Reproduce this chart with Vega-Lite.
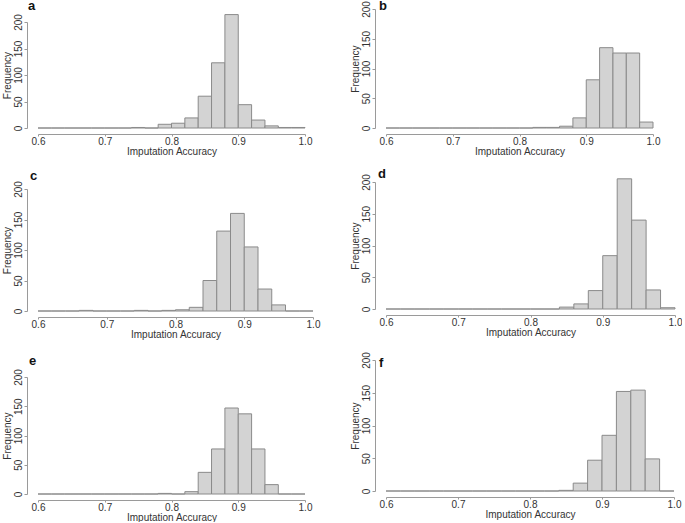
{
  "$schema": "https://vega.github.io/schema/vega-lite/v6.json",
  "padding": {"left": 2, "top": 0, "right": 0, "bottom": 0},
  "background": "white",
  "config": {
    "view": {"stroke": null},
    "font": "Liberation Sans",
    "axis": {"grid": false, "domainColor": "#9a9a9a", "tickColor": "#9a9a9a", "labelColor": "#333", "titleColor": "#333", "labelFontSize": 10, "titleFontSize": 10, "titleFontWeight": "normal", "labelFont": "Liberation Sans", "titleFont": "Liberation Sans"},
    "axisX": {"offset": 6, "tickSize": 2, "labelPadding": 0, "titlePadding": 0, "labelFlush": false},
    "axisY": {"offset": 11, "tickSize": 3, "labelPadding": 1, "labelAngle": -90, "titlePadding": 1},
    "title": {"anchor": "start", "frame": "group", "baseline": "alphabetic", "fontSize": 13, "fontWeight": "bold", "color": "#111", "font": "Liberation Sans"},
    "rect": {"fill": "#d3d3d3", "stroke": "#8a8a8a", "strokeWidth": 1}
  },
  "datasets": {
    "a": [
      {"start": 0.60, "end": 0.62, "count": 0}, {"start": 0.62, "end": 0.64, "count": 0}, {"start": 0.64, "end": 0.66, "count": 0}, {"start": 0.66, "end": 0.68, "count": 0}, {"start": 0.68, "end": 0.70, "count": 0},
      {"start": 0.70, "end": 0.72, "count": 0}, {"start": 0.72, "end": 0.74, "count": 0}, {"start": 0.74, "end": 0.76, "count": 1}, {"start": 0.76, "end": 0.78, "count": 0}, {"start": 0.78, "end": 0.80, "count": 7},
      {"start": 0.80, "end": 0.82, "count": 9}, {"start": 0.82, "end": 0.84, "count": 19}, {"start": 0.84, "end": 0.86, "count": 60}, {"start": 0.86, "end": 0.88, "count": 123}, {"start": 0.88, "end": 0.90, "count": 214},
      {"start": 0.90, "end": 0.92, "count": 44}, {"start": 0.92, "end": 0.94, "count": 15}, {"start": 0.94, "end": 0.96, "count": 4}, {"start": 0.96, "end": 0.98, "count": 1}, {"start": 0.98, "end": 1.00, "count": 1}
    ],
    "b": [
      {"start": 0.60, "end": 0.62, "count": 0}, {"start": 0.62, "end": 0.64, "count": 0}, {"start": 0.64, "end": 0.66, "count": 0}, {"start": 0.66, "end": 0.68, "count": 0}, {"start": 0.68, "end": 0.70, "count": 0},
      {"start": 0.70, "end": 0.72, "count": 0}, {"start": 0.72, "end": 0.74, "count": 0}, {"start": 0.74, "end": 0.76, "count": 0}, {"start": 0.76, "end": 0.78, "count": 0}, {"start": 0.78, "end": 0.80, "count": 0},
      {"start": 0.80, "end": 0.82, "count": 0}, {"start": 0.82, "end": 0.84, "count": 1}, {"start": 0.84, "end": 0.86, "count": 1}, {"start": 0.86, "end": 0.88, "count": 3}, {"start": 0.88, "end": 0.90, "count": 17},
      {"start": 0.90, "end": 0.92, "count": 81}, {"start": 0.92, "end": 0.94, "count": 135}, {"start": 0.94, "end": 0.96, "count": 126}, {"start": 0.96, "end": 0.98, "count": 126}, {"start": 0.98, "end": 1.00, "count": 10}
    ],
    "c": [
      {"start": 0.60, "end": 0.62, "count": 0}, {"start": 0.62, "end": 0.64, "count": 0}, {"start": 0.64, "end": 0.66, "count": 0}, {"start": 0.66, "end": 0.68, "count": 1}, {"start": 0.68, "end": 0.70, "count": 0},
      {"start": 0.70, "end": 0.72, "count": 0}, {"start": 0.72, "end": 0.74, "count": 0}, {"start": 0.74, "end": 0.76, "count": 1}, {"start": 0.76, "end": 0.78, "count": 0}, {"start": 0.78, "end": 0.80, "count": 1},
      {"start": 0.80, "end": 0.82, "count": 2}, {"start": 0.82, "end": 0.84, "count": 6}, {"start": 0.84, "end": 0.86, "count": 50}, {"start": 0.86, "end": 0.88, "count": 131}, {"start": 0.88, "end": 0.90, "count": 160},
      {"start": 0.90, "end": 0.92, "count": 105}, {"start": 0.92, "end": 0.94, "count": 36}, {"start": 0.94, "end": 0.96, "count": 10}, {"start": 0.96, "end": 0.98, "count": 0}, {"start": 0.98, "end": 1.00, "count": 0}
    ],
    "d": [
      {"start": 0.60, "end": 0.62, "count": 0}, {"start": 0.62, "end": 0.64, "count": 0}, {"start": 0.64, "end": 0.66, "count": 0}, {"start": 0.66, "end": 0.68, "count": 0}, {"start": 0.68, "end": 0.70, "count": 0},
      {"start": 0.70, "end": 0.72, "count": 0}, {"start": 0.72, "end": 0.74, "count": 0}, {"start": 0.74, "end": 0.76, "count": 0}, {"start": 0.76, "end": 0.78, "count": 0}, {"start": 0.78, "end": 0.80, "count": 0},
      {"start": 0.80, "end": 0.82, "count": 0}, {"start": 0.82, "end": 0.84, "count": 0}, {"start": 0.84, "end": 0.86, "count": 3}, {"start": 0.86, "end": 0.88, "count": 8}, {"start": 0.88, "end": 0.90, "count": 29},
      {"start": 0.90, "end": 0.92, "count": 84}, {"start": 0.92, "end": 0.94, "count": 205}, {"start": 0.94, "end": 0.96, "count": 140}, {"start": 0.96, "end": 0.98, "count": 30}, {"start": 0.98, "end": 1.00, "count": 2}
    ],
    "e": [
      {"start": 0.60, "end": 0.62, "count": 0}, {"start": 0.62, "end": 0.64, "count": 0}, {"start": 0.64, "end": 0.66, "count": 0}, {"start": 0.66, "end": 0.68, "count": 0}, {"start": 0.68, "end": 0.70, "count": 0},
      {"start": 0.70, "end": 0.72, "count": 0}, {"start": 0.72, "end": 0.74, "count": 0}, {"start": 0.74, "end": 0.76, "count": 0}, {"start": 0.76, "end": 0.78, "count": 0}, {"start": 0.78, "end": 0.80, "count": 1},
      {"start": 0.80, "end": 0.82, "count": 0}, {"start": 0.82, "end": 0.84, "count": 4}, {"start": 0.84, "end": 0.86, "count": 37}, {"start": 0.86, "end": 0.88, "count": 77}, {"start": 0.88, "end": 0.90, "count": 147},
      {"start": 0.90, "end": 0.92, "count": 137}, {"start": 0.92, "end": 0.94, "count": 77}, {"start": 0.94, "end": 0.96, "count": 16}, {"start": 0.96, "end": 0.98, "count": 0}, {"start": 0.98, "end": 1.00, "count": 0}
    ],
    "f": [
      {"start": 0.60, "end": 0.62, "count": 0}, {"start": 0.62, "end": 0.64, "count": 0}, {"start": 0.64, "end": 0.66, "count": 0}, {"start": 0.66, "end": 0.68, "count": 0}, {"start": 0.68, "end": 0.70, "count": 0},
      {"start": 0.70, "end": 0.72, "count": 0}, {"start": 0.72, "end": 0.74, "count": 0}, {"start": 0.74, "end": 0.76, "count": 0}, {"start": 0.76, "end": 0.78, "count": 0}, {"start": 0.78, "end": 0.80, "count": 0},
      {"start": 0.80, "end": 0.82, "count": 0}, {"start": 0.82, "end": 0.84, "count": 0}, {"start": 0.84, "end": 0.86, "count": 1}, {"start": 0.86, "end": 0.88, "count": 12}, {"start": 0.88, "end": 0.90, "count": 47},
      {"start": 0.90, "end": 0.92, "count": 85}, {"start": 0.92, "end": 0.94, "count": 152}, {"start": 0.94, "end": 0.96, "count": 154}, {"start": 0.96, "end": 0.98, "count": 49}, {"start": 0.98, "end": 1.00, "count": 0}
    ]
  },
  "columns": 2,
  "align": "each",
  "spacing": {"row": 12, "column": 30},
  "concat": [
    {
      "data": {"name": "a"}, "width": 267, "height": 119,
      "title": {"text": "a", "dx": -10, "offset": -4.4},
      "mark": "rect",
      "encoding": {
        "x": {"field": "start", "type": "quantitative", "scale": {"domain": [0.6, 1.0], "nice": false, "zero": false}, "axis": {"values": [0.6, 0.7, 0.8, 0.9, 1.0], "format": ".1f"}, "title": "Imputation Accuracy"},
        "x2": {"field": "end"},
        "y": {"field": "count", "type": "quantitative", "scale": {"domain": [0, 200], "range": [119, 13], "nice": false}, "axis": {"values": [0, 50, 100, 150, 200]}, "title": "Frequency"},
        "y2": {"datum": 0}
      }
    },
    {
      "data": {"name": "b"}, "width": 267, "height": 119,
      "title": {"text": "b", "dx": -7, "offset": -12.7},
      "mark": "rect",
      "encoding": {
        "x": {"field": "start", "type": "quantitative", "scale": {"domain": [0.6, 1.0], "nice": false, "zero": false}, "axis": {"values": [0.6, 0.7, 0.8, 0.9, 1.0], "format": ".1f"}, "title": "Imputation Accuracy"},
        "x2": {"field": "end"},
        "y": {"field": "count", "type": "quantitative", "scale": {"domain": [0, 200], "range": [119, 0], "nice": false}, "axis": {"values": [0, 50, 100, 150, 200]}, "title": "Frequency"},
        "y2": {"datum": 0}
      }
    },
    {
      "data": {"name": "c"}, "width": 275, "height": 129,
      "title": {"text": "c", "dx": -8, "offset": -2.4},
      "mark": "rect",
      "encoding": {
        "x": {"field": "start", "type": "quantitative", "scale": {"domain": [0.6, 1.0], "nice": false, "zero": false}, "axis": {"values": [0.6, 0.7, 0.8, 0.9, 1.0], "format": ".1f"}, "title": "Imputation Accuracy"},
        "x2": {"field": "end"},
        "y": {"field": "count", "type": "quantitative", "scale": {"domain": [0, 200], "range": [129, 7], "nice": false}, "axis": {"values": [0, 50, 100, 150, 200]}, "title": "Frequency"},
        "y2": {"datum": 0}
      }
    },
    {
      "data": {"name": "d"}, "width": 289, "height": 129,
      "title": {"text": "d", "dx": -8, "offset": -7.7},
      "mark": "rect",
      "encoding": {
        "x": {"field": "start", "type": "quantitative", "scale": {"domain": [0.6, 1.0], "nice": false, "zero": false}, "axis": {"values": [0.6, 0.7, 0.8, 0.9, 1.0], "format": ".1f", "offset": 4}, "title": "Imputation Accuracy"},
        "x2": {"field": "end"},
        "y": {"field": "count", "type": "quantitative", "scale": {"domain": [0, 200], "range": [127, 0], "nice": false}, "axis": {"values": [0, 50, 100, 150, 200]}, "title": "Frequency"},
        "y2": {"datum": 0}
      }
    },
    {
      "data": {"name": "e"}, "width": 267, "height": 134,
      "title": {"text": "e", "dx": -9, "offset": -8},
      "mark": "rect",
      "encoding": {
        "x": {"field": "start", "type": "quantitative", "scale": {"domain": [0.6, 1.0], "nice": false, "zero": false}, "axis": {"values": [0.6, 0.7, 0.8, 0.9, 1.0], "format": ".1f"}, "title": "Imputation Accuracy"},
        "x2": {"field": "end"},
        "y": {"field": "count", "type": "quantitative", "scale": {"domain": [0, 200], "range": [134, 17], "nice": false}, "axis": {"values": [0, 50, 100, 150, 200]}, "title": "Frequency"},
        "y2": {"datum": 0}
      }
    },
    {
      "data": {"name": "f"}, "width": 288, "height": 134,
      "title": {"text": "f", "dx": -7, "offset": -18.4},
      "mark": "rect",
      "encoding": {
        "x": {"field": "start", "type": "quantitative", "scale": {"domain": [0.6, 1.0], "nice": false, "zero": false}, "axis": {"values": [0.6, 0.7, 0.8, 0.9, 1.0], "format": ".1f", "offset": 3}, "title": "Imputation Accuracy"},
        "x2": {"field": "end"},
        "y": {"field": "count", "type": "quantitative", "scale": {"domain": [0, 200], "range": [131, 0], "nice": false}, "axis": {"values": [0, 50, 100, 150, 200]}, "title": "Frequency"},
        "y2": {"datum": 0}
      }
    }
  ]
}
